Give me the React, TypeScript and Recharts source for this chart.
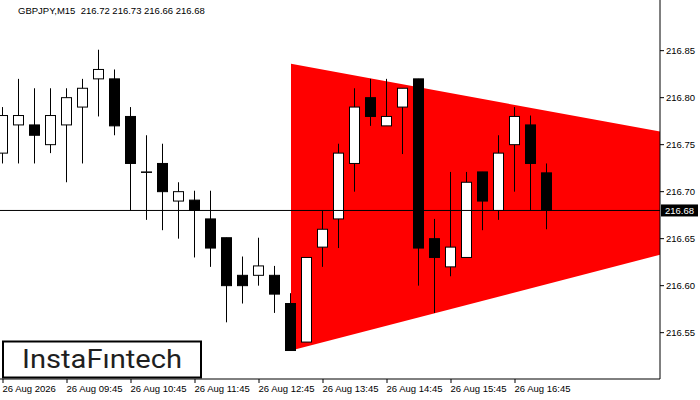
import React from "react";
import { ComposedChart, Bar, Area, XAxis, YAxis, ReferenceLine } from "recharts";

// 15-minute bars, GBPJPY
const open = [
  216.741, 216.771, 216.771, 216.75, 216.771, 216.79, 216.82, 216.82, 216.78, 216.721,
  216.73, 216.69, 216.691, 216.671, 216.651, 216.611, 216.611, 216.611, 216.581, 216.54,
  216.641, 216.671, 216.73, 216.8, 216.77, 216.79, 216.82, 216.65, 216.62, 216.63,
  216.721, 216.68, 216.75, 216.771, 216.72,
];
const high = [
  216.79, 216.82, 216.81, 216.81, 216.81, 216.82, 216.851, 216.83, 216.79, 216.76,
  216.751, 216.71, 216.701, 216.701, 216.651, 216.631, 216.651, 216.621, 216.592, 216.63,
  216.68, 216.751, 216.81, 216.82, 216.82, 216.81, 216.82, 216.671, 216.721, 216.721,
  216.721, 216.76, 216.79, 216.781, 216.73,
];
const low = [
  216.73, 216.73, 216.73, 216.741, 216.71, 216.73, 216.78, 216.76, 216.68, 216.67,
  216.659, 216.65, 216.63, 216.62, 216.561, 216.581, 216.6, 216.571, 216.531, 216.54,
  216.62, 216.64, 216.7, 216.77, 216.77, 216.74, 216.6, 216.571, 216.61, 216.63,
  216.659, 216.67, 216.7, 216.68, 216.66,
];
const close = [
  216.781, 216.781, 216.76, 216.781, 216.8, 216.81, 216.83, 216.77, 216.73, 216.721,
  216.7, 216.7, 216.68, 216.64, 216.6, 216.6, 216.621, 216.591, 216.531, 216.63,
  216.66, 216.741, 216.79, 216.78, 216.78, 216.81, 216.64, 216.63, 216.641, 216.71,
  216.69, 216.741, 216.78, 216.73, 216.68,
];

const tickIdx = [0, 4, 8, 12, 16, 20, 24, 28, 32];
const tickLabels = [
  "26 Aug 2026", "26 Aug 09:45", "26 Aug 10:45", "26 Aug 11:45", "26 Aug 12:45",
  "26 Aug 13:45", "26 Aug 14:45", "26 Aug 15:45", "26 Aug 16:45",
];
const priceTicks = [216.55, 216.6, 216.65, 216.7, 216.75, 216.8, 216.85];

// triangle pattern corners (bar index, lower edge, upper edge)
const triX = [18, 42];
const triBottom = [216.531, 216.637];
const triTop = [216.836, 216.761];

const lastPrice = 216.68;
const header = "GBPJPY,M15  216.72 216.73 216.66 216.68";

const AXIS_FONT = "'Liberation Sans', Arial, sans-serif";

const rows: any[] = [];
for (let i = 0; i <= 42; i++) {
  const r: any = { x: i };
  if (i < open.length) {
    r.o = open[i];
    r.c = close[i];
    r.range = [low[i], high[i]];
  }
  const t = triX.indexOf(i);
  if (t >= 0) r.tri = [triBottom[t], triTop[t]];
  rows.push(r);
}

const Candle = (props: any) => {
  const { x, y, width, height, payload } = props;
  if (!payload || payload.o == null || !isFinite(y) || !isFinite(height)) return null;
  const [lo, hi] = payload.range;
  const top = Math.min(y, y + height);
  const h = Math.abs(height);
  const py = (v: number) => top + ((hi - v) / (hi - lo)) * h;
  const bull = payload.c >= payload.o;
  const bTop = py(Math.max(payload.o, payload.c));
  const bBot = py(Math.min(payload.o, payload.c));
  const cx = Math.round(x + width / 2) - 0.5;
  return (
    <g>
      <line x1={cx} x2={cx} y1={top} y2={top + h} stroke="#000" strokeWidth={1} />
      <rect
        x={x + 0.5}
        y={bTop}
        width={width - 1}
        height={Math.max(bBot - bTop, 0.5)}
        fill={bull ? "#fff" : "#000"}
        stroke="#000"
        strokeWidth={1}
      />
    </g>
  );
};

const TimeTick = (props: any) => {
  const { x, y, payload } = props;
  const i = tickIdx.indexOf(payload.value);
  return (
    <text x={x - 0.5} y={y + 7} textAnchor="start" fontSize={9.5} fontFamily={AXIS_FONT} fill="#000">
      {tickLabels[i]}
    </text>
  );
};

const PriceTag = (props: any) => {
  const vb = props.viewBox || {};
  const bx = vb.x + vb.width + 1;
  const by = vb.y - 6;
  return (
    <g>
      <rect x={bx} y={by} width={37} height={12} fill="#000" />
      <text x={bx + 4} y={by + 9.5} fontSize={9.5} fontFamily={AXIS_FONT} fill="#fff">
        {lastPrice.toFixed(2)}
      </text>
    </g>
  );
};

export default function App() {
  return (
    <div style={{ position: "relative", width: 700, height: 400, background: "#fff" }}>
      <style>{`body{margin:0}`}</style>
      <ComposedChart width={700} height={400} data={rows} margin={{ top: 0, right: 0, bottom: 0, left: 0 }}>
        <XAxis
          dataKey="x"
          type="number"
          domain={[-0.1875, 41.0625]}
          allowDataOverflow
          ticks={tickIdx}
          interval={0}
          tick={<TimeTick />}
          tickSize={4}
          height={21}
          stroke="#000"
        />
        <YAxis
          orientation="right"
          domain={[216.5007, 216.9039]}
          allowDataOverflow
          ticks={priceTicks}
          interval={0}
          width={40}
          tickSize={4}
          tickMargin={2}
          stroke="#000"
          tickFormatter={(v: number) => v.toFixed(2)}
          tick={{ fontSize: 9.5, fontFamily: AXIS_FONT, fill: "#000" }}
        />
        <Area
          dataKey="tri"
          type="linear"
          connectNulls
          fill="#ff0000"
          fillOpacity={1}
          stroke="none"
          dot={false}
          activeDot={false}
          isAnimationActive={false}
        />
        <ReferenceLine y={lastPrice} stroke="#000" strokeWidth={1} label={<PriceTag />} />
        <Bar dataKey="range" barSize={11} shape={<Candle />} isAnimationActive={false} />
      </ComposedChart>
      <svg width={700} height={400} style={{ position: "absolute", left: 0, top: 0, pointerEvents: "none" }}>
        <text x={18} y={14} fontSize={9.5} fontFamily={AXIS_FONT} fill="#000" style={{ whiteSpace: "pre" }}>
          {header}
        </text>
        <rect x={3} y={341.5} width={198} height={36} fill="#fff" stroke="#000" strokeWidth={2} />
        <text
          x={22}
          y={368}
          fontSize={26}
          fontWeight={400}
          fontFamily="Roboto, 'Open Sans', sans-serif"
          fill="#1f1f1f"
          textLength={160}
          lengthAdjust="spacingAndGlyphs"
        >
          InstaFıntech
        </text>
      </svg>
    </div>
  );
}
